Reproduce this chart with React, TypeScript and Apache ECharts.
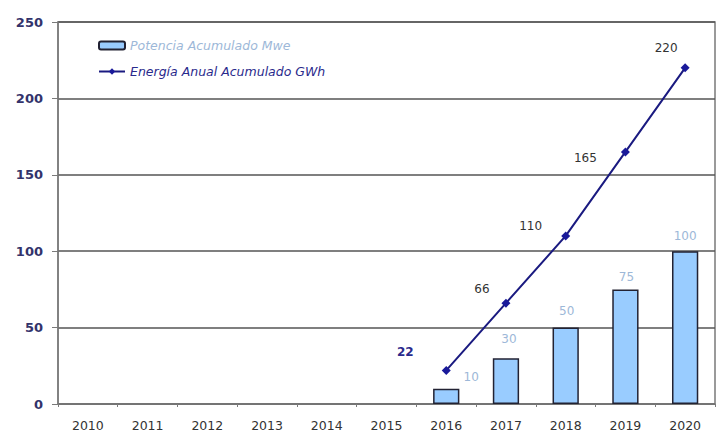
import React, { useEffect, useRef } from "react";
import * as echarts from "echarts";

const years = ["2010", "2011", "2012", "2013", "2014", "2015", "2016", "2017", "2018", "2019", "2020"];
const potencia = [null, null, null, null, null, null, 10, 30, 50, 75, 100];
const energia = [null, null, null, null, null, null, 22, 66, 110, 165, 220];
const yTicks = [0, 50, 100, 150, 200, 250];

const FONT = "DejaVu Sans";

export default function App() {
  const ref = useRef<HTMLDivElement>(null);
  useEffect(() => {
    if (!ref.current) return;
    const chart = echarts.init(ref.current, undefined, { renderer: "svg" });
    const lineOffsets: Record<number, number[]> = {
      6: [-41, -18],
      7: [-24, -14],
      8: [-35, -10],
      9: [-40, 6],
      10: [-19, -20],
    };
    const barOffsets: Record<number, number[]> = {
      6: [25, 2],
      7: [3, -5],
      8: [1, -3],
      9: [1, 2],
      10: [0, -1],
    };
    chart.setOption({
      animation: false,
      backgroundColor: "#ffffff",
      grid: {
        left: 58,
        right: 10,
        top: 22,
        bottom: 35,
        show: true,
        borderColor: "#7a7a7a",
        borderWidth: 1.5,
      },
      legend: {
        left: 93,
        top: 34,
        orient: "vertical",
        itemGap: 13,
        itemWidth: 26,
        itemHeight: 8,
        textStyle: { fontFamily: FONT, fontSize: 12.5, fontStyle: "italic" },
        data: [
          { name: "Potencia Acumulado Mwe", textStyle: { color: "#9db8d8" } },
          { name: "Energía Anual Acumulado GWh", textStyle: { color: "#2a2a8c" } },
        ],
      },
      xAxis: {
        type: "category",
        data: years,
        axisLine: { lineStyle: { color: "#7a7a7a", width: 1.5 } },
        axisTick: { show: true, length: 3, lineStyle: { color: "#7a7a7a" } },
        axisLabel: { color: "#333333", fontFamily: FONT, fontSize: 12.5, margin: 15 },
      },
      yAxis: {
        type: "value",
        min: yTicks[0],
        max: yTicks[yTicks.length - 1],
        interval: 50,
        axisLine: { show: true, lineStyle: { color: "#7a7a7a", width: 1.5 } },
        axisTick: { show: true, length: 6, lineStyle: { color: "#7a7a7a" } },
        axisLabel: { color: "#33336b", fontFamily: FONT, fontSize: 13, fontWeight: "bold", margin: 15 },
        splitLine: { show: true, lineStyle: { color: "#555555", width: 1.5 } },
      },
      series: [
        {
          name: "Potencia Acumulado Mwe",
          type: "bar",
          barWidth: "44%",
          data: potencia.map((v, i) =>
            v == null
              ? null
              : { value: v, label: { offset: barOffsets[i] || [0, 0] } }
          ),
          itemStyle: { color: "#99ccff", borderColor: "#222233", borderWidth: 1.5 },
          label: {
            show: true,
            position: "top",
            distance: 8,
            color: "#9db8d8",
            fontFamily: FONT,
            fontSize: 12,
          },
        },
        {
          name: "Energía Anual Acumulado GWh",
          type: "line",
          data: energia.map((v, i) =>
            v == null
              ? null
              : {
                  value: v,
                  label: {
                    offset: lineOffsets[i] || [0, 0],
                    color: i === 6 ? "#2a2a8c" : "#333333",
                    fontWeight: i === 6 ? "bold" : "normal",
                  },
                }
          ),
          connectNulls: false,
          symbol: "diamond",
          symbolSize: 9,
          lineStyle: { color: "#1a1a80", width: 2 },
          itemStyle: { color: "#1a1a9a" },
          label: {
            show: true,
            position: "inside",
            fontFamily: FONT,
            fontSize: 12,
          },
        },
      ],
    });
    return () => chart.dispose();
  }, []);
  return (
    <div
      ref={ref}
      style={{ position: "fixed", left: 0, top: 0, width: 725, height: 439 }}
    />
  );
}
